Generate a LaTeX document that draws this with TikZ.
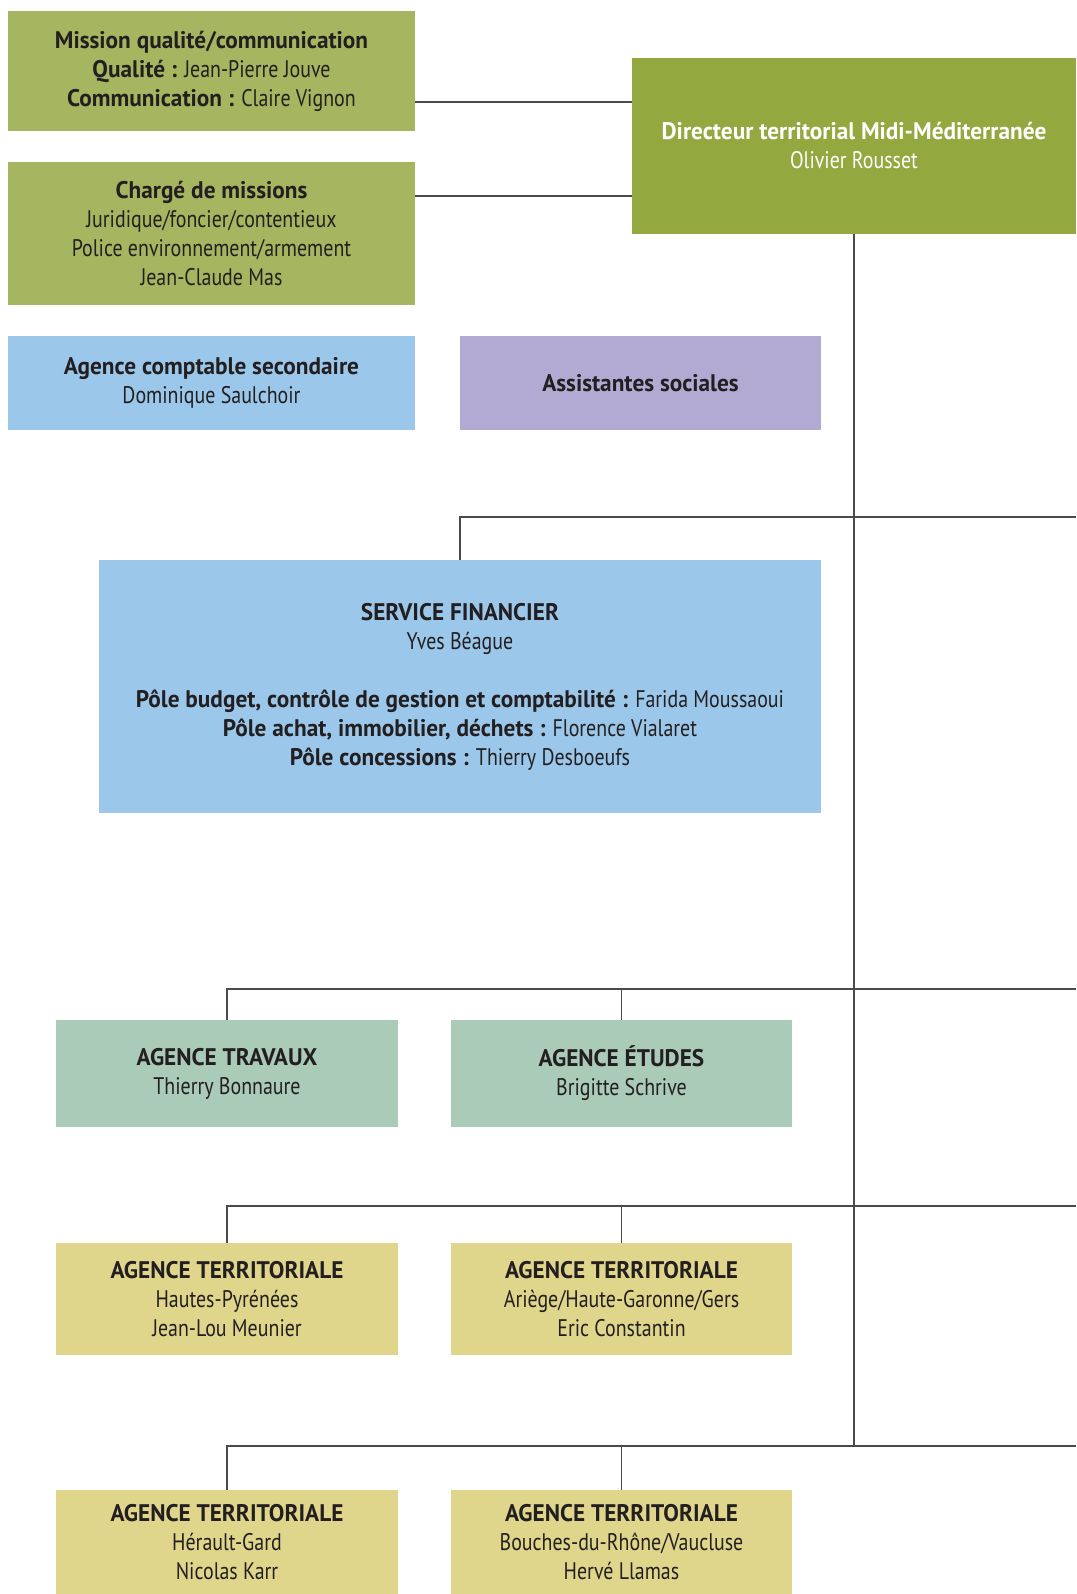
\documentclass[tikz,border=0pt]{standalone}
\usepackage{fontspec}
\setmainfont{PT Sans}[FakeStretch=0.83, BoldFeatures={FakeStretch=0.97}]
\definecolor{cmission}{HTML}{A6B55F}
\definecolor{cdir}{HTML}{93A83F}
\definecolor{cblue}{HTML}{9BC8EA}
\definecolor{cpurple}{HTML}{B3AAD4}
\definecolor{cteal}{HTML}{A9CBB7}
\definecolor{cyellow}{HTML}{DFD68C}
\definecolor{ctext}{HTML}{231F20}
\definecolor{cline}{HTML}{4A4A4A}
\tikzset{
  box/.style={draw=none, inner sep=0pt, align=center, text=ctext,
    font=\fontsize{12}{14.5}\selectfont},
  link/.style={draw=cline, line width=0.75pt},
}
\begin{document}
\begin{tikzpicture}[x=0.5pt,y=-0.5pt]
\useasboundingbox (0,0) rectangle (1076,1594);
% nodes
\node[box, fill=cmission, minimum width=203.5pt, minimum height=60pt] (mis) at (211.5,71)
  {\textbf{Mission qualité/communication}\\\textbf{Qualité :} Jean-Pierre Jouve\\\textbf{Communication :} Claire Vignon};
\node[box, fill=cmission, minimum width=203.5pt, minimum height=71.5pt] (cha) at (211.5,233.5)
  {\textbf{Chargé de missions}\\Juridique/foncier/contentieux\\Police environnement/armement\\Jean-Claude Mas};
\node[box, fill=cdir, minimum width=222pt, minimum height=88pt, text=white] (dir) at (854,146)
  {\textbf{Directeur territorial Midi-Méditerranée}\\Olivier Rousset};
\node[box, fill=cblue, minimum width=203.5pt, minimum height=47pt] (acs) at (211.5,383)
  {\textbf{Agence comptable secondaire}\\Dominique Saulchoir};
\node[box, fill=cpurple, minimum width=180.5pt, minimum height=47pt] (ass) at (640.5,383)
  {\textbf{Assistantes sociales}};
\node[box, fill=cblue, minimum width=361pt, minimum height=126.5pt] (sf) at (460,686.5)
  {\textbf{SERVICE FINANCIER}\\Yves Béague\\[14.5pt]
   \textbf{Pôle budget, contrôle de gestion et comptabilité :} Farida Moussaoui\\
   \textbf{Pôle achat, immobilier, déchets :} Florence Vialaret\\
   \textbf{Pôle concessions :} Thierry Desboeufs};
\node[box, fill=cteal, minimum width=171pt, minimum height=53.5pt] (at) at (227,1073.5)
  {\textbf{AGENCE TRAVAUX}\\Thierry Bonnaure};
\node[box, fill=cteal, minimum width=170.5pt, minimum height=53.5pt] (ae) at (621.5,1073.5)
  {\textbf{AGENCE ÉTUDES}\\Brigitte Schrive};
\node[box, fill=cyellow, minimum width=171pt, minimum height=56pt] (t1) at (227,1299)
  {\textbf{AGENCE TERRITORIALE}\\Hautes-Pyrénées\\Jean-Lou Meunier};
\node[box, fill=cyellow, minimum width=170.5pt, minimum height=56pt] (t2) at (621.5,1299)
  {\textbf{AGENCE TERRITORIALE}\\Ariège/Haute-Garonne/Gers\\Eric Constantin};
\node[box, fill=cyellow, minimum width=171pt, minimum height=52pt] (t3) at (227,1542)
  {\textbf{AGENCE TERRITORIALE}\\Hérault-Gard\\Nicolas Karr};
\node[box, fill=cyellow, minimum width=170.5pt, minimum height=52pt] (t4) at (621.5,1542)
  {\textbf{AGENCE TERRITORIALE}\\Bouches-du-Rhône/Vaucluse\\Hervé Llamas};
% free ends
\coordinate (e1) at (1076,517);
\coordinate (e2) at (1076,989);
\coordinate (e3) at (1076,1206);
\coordinate (e4) at (1076,1446);
\coordinate (trunkend) at (854,1446);
% connectors
\draw[link] (mis.east |- 0,102) -- (dir.west |- 0,102);
\draw[link] (cha.east |- 0,196) -- (dir.west |- 0,196);
\draw[link] (dir.south) -- (trunkend);
\draw[link] (sf.north) |- (e1);
\draw[link] (at.north) |- (e2);
\draw[link] (ae.north) -- (ae.north |- e2);
\draw[link] (t1.north) |- (e3);
\draw[link] (t2.north) -- (t2.north |- e3);
\draw[link] (t3.north) |- (e4);
\draw[link] (t4.north) -- (t4.north |- e4);
\end{tikzpicture}
\end{document}
